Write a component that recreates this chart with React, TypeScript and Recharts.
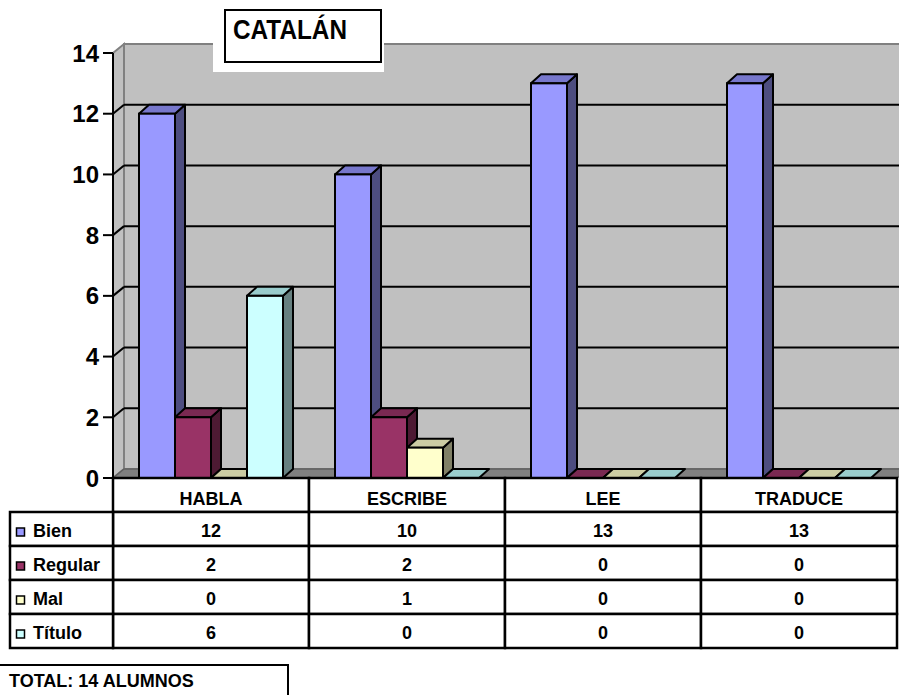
import React from 'react';
import { BarChart, Bar, XAxis, YAxis, CartesianGrid, Legend } from 'recharts';

const categories = ['HABLA', 'ESCRIBE', 'LEE', 'TRADUCE'];
const bien = [12, 10, 13, 13];
const regular = [2, 2, 0, 0];
const mal = [0, 1, 0, 0];
const titulo = [6, 0, 0, 0];
const seriesNames = ['Bien', 'Regular', 'Mal', 'Título'];
const seriesValues = [bien, regular, mal, titulo];
const yTicks = [0, 2, 4, 6, 8, 10, 12, 14];
const chartTitle = 'CATALÁN';
const totalLabel = 'TOTAL: 14 ALUMNOS';

const data = categories.map((c, i) => {
  const row: any = { cat: c };
  seriesNames.forEach((s, k) => (row[s] = seriesValues[k][i]));
  return row;
});

const W = 899;
const H = 695;
const PLOT_TOP = 53;
const PLOT_BOTTOM = 478;
const PLOT_LEFT = 113;
const PLOT_RIGHT = 897;
const DX = 11;
const DY = 9;
const BDX = 10;
const BDY = 9;
const ROW_H = 34;
const HEADER_BOTTOM = 512;
const FONT = '"Liberation Sans", Arial, Helvetica, sans-serif';

const palette: Record<string, { front: string; top: string; side: string }> = {
  Bien: { front: '#9999FF', top: '#7777CC', side: '#4D4D80' },
  Regular: { front: '#993366', top: '#7A2952', side: '#4D1A33' },
  Mal: { front: '#FFFFCC', top: '#CCCCA3', side: '#808066' },
  'Título': { front: '#CCFFFF', top: '#99CCCC', side: '#668080' },
};

const makeShape = (name: string) => (props: any) => {
  const c = palette[name];
  const x = props.x;
  const y = props.y;
  const w = props.width;
  const h = Math.max(0, props.height || 0);
  return (
    <g>
      {h > 0 && (
        <polygon
          points={`${x + w},${y} ${x + w + BDX},${y - BDY} ${x + w + BDX},${y + h - BDY} ${x + w},${y + h}`}
          fill={c.side}
          stroke="#000"
          strokeWidth={2}
          strokeLinejoin="round"
        />
      )}
      <polygon
        points={`${x},${y} ${x + BDX},${y - BDY} ${x + w + BDX},${y - BDY} ${x + w},${y}`}
        fill={c.top}
        stroke="#000"
        strokeWidth={2}
        strokeLinejoin="round"
      />
      {h > 0 && <rect x={x} y={y} width={w} height={h} fill={c.front} stroke="#000" strokeWidth={2} />}
    </g>
  );
};

const gridLine = (p: any) => {
  const y1 = p.y1;
  const top = typeof p.y === 'number' ? p.y : PLOT_TOP;
  const height = typeof p.height === 'number' ? p.height : PLOT_BOTTOM - PLOT_TOP;
  const left = typeof p.x === 'number' ? p.x : PLOT_LEFT;
  const width = typeof p.width === 'number' ? p.width : PLOT_RIGHT - PLOT_LEFT;
  const bottom = top + height;
  const els: any[] = [];
  if (p.index === 0) {
    els.push(
      <rect key="bw" x={left + DX} y={top - DY} width={W - left - DX + 2} height={height} fill="#C0C0C0" stroke="#808080" strokeWidth={2} />,
      <polygon key="lw" points={`${left},${top} ${left + DX},${top - DY} ${left + DX},${bottom - DY} ${left},${bottom}`} fill="#C0C0C0" stroke="#808080" strokeWidth={2} />,
      <polygon key="fl" points={`${left},${bottom} ${left + width},${bottom} ${left + width + DX},${bottom - DY} ${left + DX},${bottom - DY}`} fill="#808080" stroke="#606060" strokeWidth={1.5} />
    );
  }
  if (Math.abs(y1 - bottom) > 1 && Math.abs(y1 - top) > 1) {
    els.push(
      <line key="d" x1={left} y1={y1} x2={left + DX} y2={y1 - DY} stroke="#000" strokeWidth={2} />,
      <line key="h" x1={left + DX} y1={y1 - DY} x2={W + 2} y2={y1 - DY} stroke="#000" strokeWidth={2} />
    );
  }
  return <g key={`g-${p.index}`}>{els}</g>;
};

const TableTick = (props: any) => {
  const { x, payload } = props;
  let i = typeof payload.index === 'number' ? payload.index : categories.indexOf(payload.value);
  if (i < 0) i = categories.indexOf(payload.value);
  const half = (PLOT_RIGHT - PLOT_LEFT) / categories.length / 2;
  const left = x - half;
  const cellW = half * 2;
  return (
    <g>
      <rect x={left} y={PLOT_BOTTOM} width={cellW} height={HEADER_BOTTOM - PLOT_BOTTOM} fill="#fff" stroke="#000" strokeWidth={2.5} />
      <text x={x} y={505} textAnchor="middle" fontSize={18} fontWeight="bold" fill="#000" fontFamily={FONT}>
        {payload.value}
      </text>
      {seriesValues.map((vals, r) => (
        <g key={r}>
          <rect x={left} y={HEADER_BOTTOM + r * ROW_H} width={cellW} height={ROW_H} fill="#fff" stroke="#000" strokeWidth={2.5} />
          <text x={x} y={HEADER_BOTTOM + r * ROW_H + 25} textAnchor="middle" fontSize={18} fontWeight="bold" fill="#000" fontFamily={FONT}>
            {vals[i]}
          </text>
        </g>
      ))}
    </g>
  );
};

const LegendTable = (props: any) => {
  const payload = [...(props.payload || [])].sort(
    (a: any, b: any) => seriesNames.indexOf(a.value) - seriesNames.indexOf(b.value)
  );
  return (
    <svg width={106} height={4 * ROW_H + 4} style={{ display: 'block', overflow: 'visible' }}>
      {payload.map((e: any, r: number) => (
        <g key={r}>
          <rect x={1} y={1 + r * ROW_H} width={103} height={ROW_H} fill="#fff" stroke="#000" strokeWidth={2.5} />
          <rect x={7.5} y={1 + r * ROW_H + 16} width={8} height={8} fill={e.color} stroke="#000" strokeWidth={1.5} />
          <text x={24} y={1 + r * ROW_H + 25} fontSize={18} fontWeight="bold" fill="#000" fontFamily={FONT}>
            {e.value}
          </text>
        </g>
      ))}
    </svg>
  );
};

export default function App() {
  return (
    <div style={{ position: 'absolute', left: 0, top: 0, width: W, height: H, background: '#fff', fontFamily: FONT }}>
      <BarChart
        width={W}
        height={H}
        data={data}
        margin={{ top: PLOT_TOP, right: W - PLOT_RIGHT, bottom: 0, left: 0 }}
        barGap={0}
        barSize={36}
        style={{ fontFamily: FONT }}
      >
        <CartesianGrid horizontal={gridLine} vertical={false} />
        <XAxis
          dataKey="cat"
          height={H - PLOT_BOTTOM}
          axisLine={false}
          tickLine={false}
          tickSize={0}
          tickMargin={0}
          interval={0}
          tick={<TableTick />}
        />
        <YAxis
          width={PLOT_LEFT}
          domain={[0, 14]}
          ticks={yTicks}
          interval={0}
          tickSize={10}
          tickMargin={4}
          axisLine={{ stroke: '#000', strokeWidth: 2 }}
          tickLine={{ stroke: '#000', strokeWidth: 2 }}
          tick={{ fontSize: 24, fontWeight: 'bold', fill: '#000', fontFamily: FONT }}
        />
        <Legend
          layout="horizontal"
          verticalAlign="middle"
          align="center"
          content={<LegendTable />}
          wrapperStyle={{ position: 'absolute', left: 9, top: 511, width: 106, height: 4 * ROW_H + 4 }}
        />
        {seriesNames.map((s) => (
          <Bar key={s} dataKey={s} name={s} fill={palette[s].front} isAnimationActive={false} shape={makeShape(s)} />
        ))}
      </BarChart>
      <svg width={W} height={H} style={{ position: 'absolute', left: 0, top: 0, pointerEvents: 'none' }}>
        <rect x={213} y={-2} width={171} height={74} fill="#fff" />
        <rect x={225} y={10} width={156} height={52} fill="#fff" stroke="#000" strokeWidth={2} />
        <text x={233} y={39} fontSize={28} fontWeight="bold" fill="#000" fontFamily={FONT} textLength={114} lengthAdjust="spacingAndGlyphs">
          {chartTitle}
        </text>
        <rect x={-2} y={665} width={290} height={40} fill="#fff" stroke="#000" strokeWidth={2} />
        <text x={9} y={687} fontSize={18} fontWeight="bold" fill="#000" fontFamily={FONT}>
          {totalLabel}
        </text>
      </svg>
    </div>
  );
}
